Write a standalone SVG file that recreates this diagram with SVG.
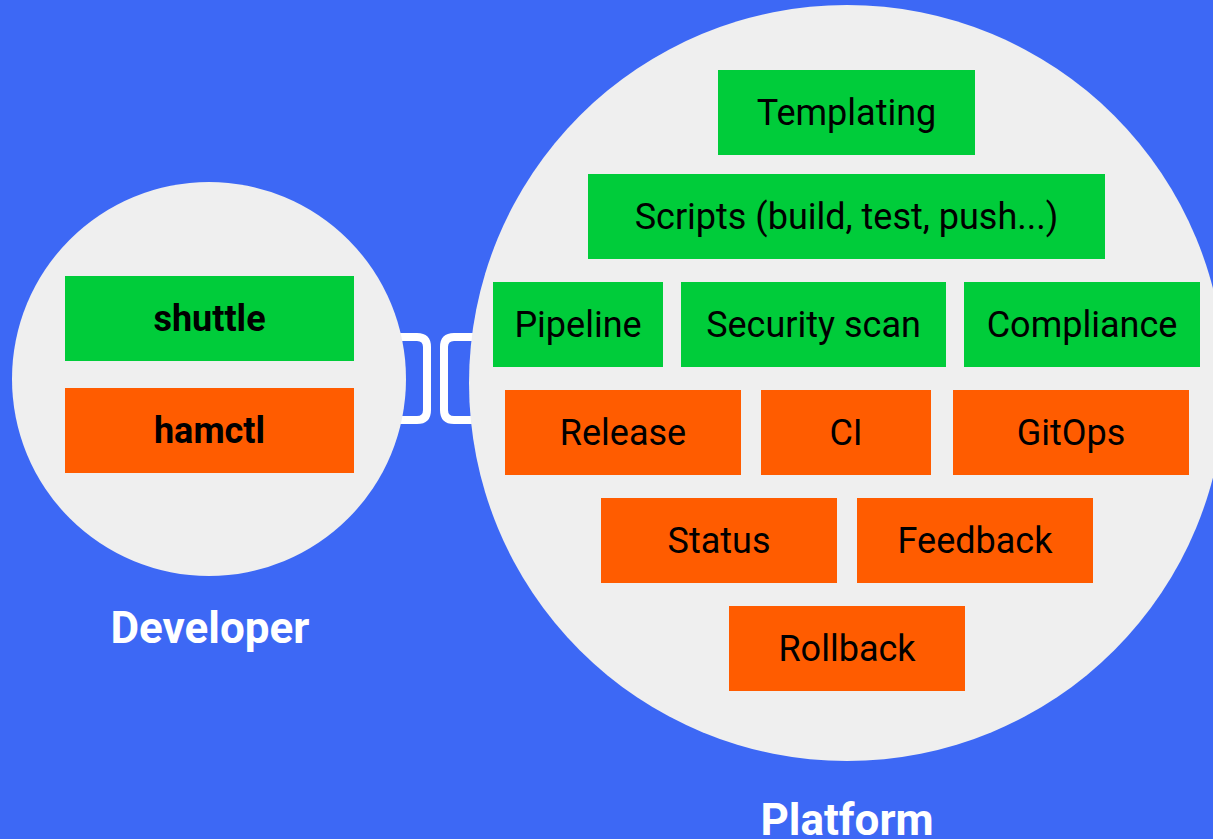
<svg xmlns="http://www.w3.org/2000/svg" width="1213" height="839" viewBox="0 0 1213 839">
<style>
.bg{fill:#3D68F5}
.circ{fill:#EFEFEF}
.g{fill:#00CC3A}
.o{fill:#FF5C00}
.t{font-family:Roboto,"Liberation Sans",sans-serif;font-size:36px;fill:#000;text-anchor:middle}
.tb{font-family:Roboto,"Liberation Sans",sans-serif;font-size:36px;font-weight:bold;fill:#000;text-anchor:middle}
.lbl{font-family:Roboto,"Liberation Sans",sans-serif;font-weight:bold;fill:#FFFFFF;text-anchor:middle}
.conn{fill:none;stroke:#FFFFFF;stroke-width:8}
</style>
<rect class="bg" x="0" y="0" width="1213" height="839"/>
<g id="connectors">
<path class="conn" d="M380 337 H417 Q427 337 427 347 V410 Q427 420 417 420 H380"/>
<path class="conn" d="M490 337 H454 Q444 337 444 347 V410 Q444 420 454 420 H490"/>
</g>
<g id="developer">
<circle class="circ" cx="209" cy="379" r="197"/>
<text class="lbl" x="210" y="643" font-size="44">Developer</text>
</g>
<g id="platform">
<circle class="circ" cx="847" cy="383" r="378"/>
<text class="lbl" x="847" y="835" font-size="44">Platform</text>
</g>
<g id="shuttle"><rect class="g" x="65" y="276" width="289" height="85"/><text class="tb" x="209.5" y="331">shuttle</text></g>
<g id="hamctl"><rect class="o" x="65" y="388" width="289" height="85"/><text class="tb" x="209.5" y="443">hamctl</text></g>
<g id="templating"><rect class="g" x="718" y="70" width="257" height="85"/><text class="t" x="846.5" y="125">Templating</text></g>
<g id="scripts"><rect class="g" x="588" y="174" width="517" height="85"/><text class="t" x="846.5" y="229">Scripts (build, test, push...)</text></g>
<g id="pipeline"><rect class="g" x="493" y="282" width="170" height="85"/><text class="t" x="578" y="337">Pipeline</text></g>
<g id="security-scan"><rect class="g" x="681" y="282" width="265" height="85"/><text class="t" x="813.5" y="337">Security scan</text></g>
<g id="compliance"><rect class="g" x="964" y="282" width="236" height="85"/><text class="t" x="1082" y="337">Compliance</text></g>
<g id="release"><rect class="o" x="505" y="390" width="236" height="85"/><text class="t" x="623" y="445">Release</text></g>
<g id="ci"><rect class="o" x="761" y="390" width="170" height="85"/><text class="t" x="846" y="445">CI</text></g>
<g id="gitops"><rect class="o" x="953" y="390" width="236" height="85"/><text class="t" x="1071" y="445">GitOps</text></g>
<g id="status"><rect class="o" x="601" y="498" width="236" height="85"/><text class="t" x="719" y="553">Status</text></g>
<g id="feedback"><rect class="o" x="857" y="498" width="236" height="85"/><text class="t" x="975" y="553">Feedback</text></g>
<g id="rollback"><rect class="o" x="729" y="606" width="236" height="85"/><text class="t" x="847" y="661">Rollback</text></g>
</svg>
